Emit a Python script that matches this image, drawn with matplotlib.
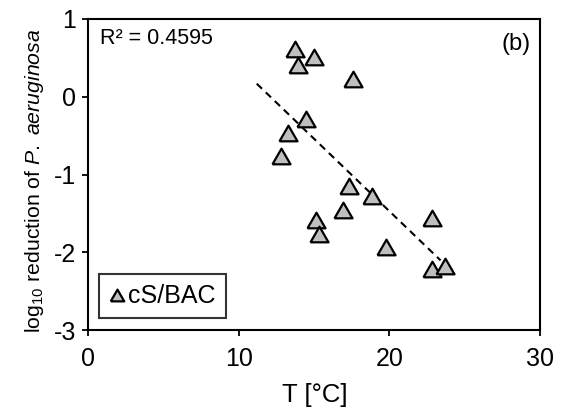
import matplotlib
matplotlib.use("Agg")
import matplotlib.pyplot as plt
import numpy as np

# data
temp_c = [13.74, 15.02, 13.96, 17.61, 14.44, 13.25, 12.81, 17.34,
          18.82, 16.94, 15.11, 15.33, 22.80, 19.81, 22.80, 23.69]
log_red = [0.62, 0.51, 0.41, 0.23, -0.28, -0.46, -0.76, -1.15,
           -1.28, -1.46, -1.59, -1.77, -1.56, -1.93, -2.22, -2.18]
trend_x = [11.2, 23.4]
series_label = "cS/BAC"
r2_text = "R² = 0.4595"
panel_text = "(b)"
x_ticks = [0, 10, 20, 30]
y_ticks = [-3, -2, -1, 0, 1]

plt.rcParams["font.family"] = ["Liberation Sans", "DejaVu Sans"]
plt.rcParams["axes.unicode_minus"] = False
plt.rcParams["mathtext.fontset"] = "custom"
plt.rcParams["mathtext.rm"] = "Liberation Sans"
plt.rcParams["mathtext.it"] = "Liberation Sans:italic"

# equilateral triangle marker
tri = [(-1.0, -0.866), (1.0, -0.866), (0.0, 0.866), (-1.0, -0.866)]

fig = plt.figure(figsize=(5.64, 4.17), dpi=100)
ax = fig.add_axes([88 / 564, 1 - 330 / 417, 452 / 564, 311 / 417])

coef = np.polyfit(temp_c, log_red, 1)
tx = np.array(trend_x)
ax.plot(tx, np.polyval(coef, tx), color="black", lw=1.5, ls=(0, (3.5, 2.5)), zorder=2)

ax.plot(temp_c, log_red, ls="none", marker=tri, ms=13, mfc="#BFBFBF",
        mec="black", mew=1.6, zorder=3, label=series_label)

ax.set_xlim(0, 30)
ax.set_ylim(-3, 1)
ax.set_xticks(x_ticks)
ax.set_yticks(y_ticks)
ax.tick_params(direction="out", length=4.5, width=1.3, labelsize=18, colors="black")
ax.tick_params(axis="x", pad=8)
ax.tick_params(axis="y", pad=4)
for s in ax.spines.values():
    s.set_linewidth(1.5)
    s.set_color("black")

ax.set_xlabel("T [°C]", fontsize=18.5)
ax.xaxis.set_label_coords(0.501, -0.172)
ax.set_ylabel(r"log$_{10}$ reduction of $\mathit{P.}$ $\mathit{aeruginosa}$", fontsize=15.3)
ax.yaxis.set_label_coords(-0.092, 0.48)

ax.text(0.027, 0.972, r2_text, transform=ax.transAxes, ha="left", va="top", fontsize=15.5)
ax.text(0.98, 0.955, panel_text, transform=ax.transAxes, ha="right", va="top", fontsize=17)

leg = ax.legend(loc="lower left", bbox_to_anchor=(0.025, 0.037), fontsize=18,
                frameon=True, fancybox=False, markerscale=0.75, handlelength=0.65,
                handletextpad=0.1, borderpad=0.4, borderaxespad=0)
leg.get_frame().set_edgecolor("black")
leg.get_frame().set_linewidth(1.5)

fig.savefig("out.png", dpi=100)
